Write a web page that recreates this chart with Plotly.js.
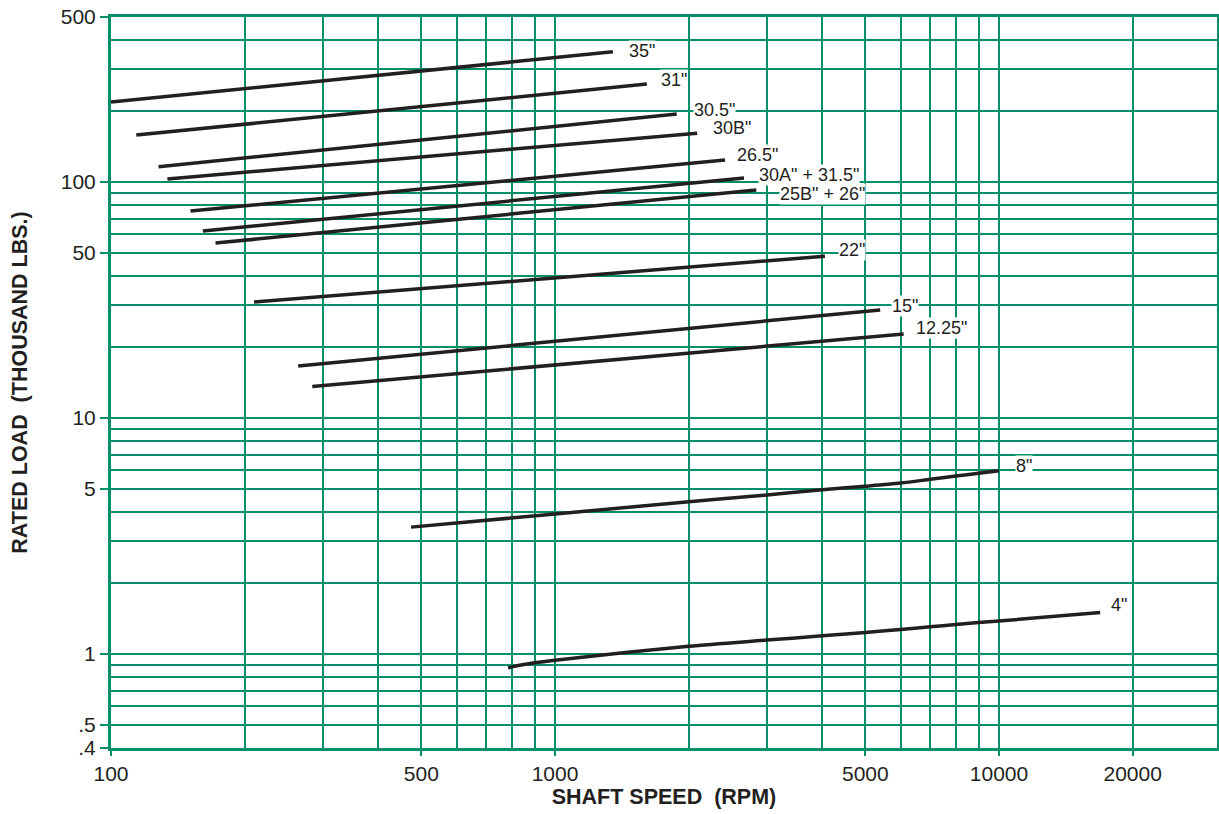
<!DOCTYPE html>
<html>
<head>
<meta charset="utf-8">
<script src="https://cdn.plot.ly/plotly-3.0.1.min.js"></script>
<style>html,body{margin:0;padding:0;background:#fff;}#chart{width:1219px;height:814px;}</style>
</head>
<body>
<div id="chart"></div>
<script>
// ---- data ----
const curveNames = ['35"', '31"', '30.5"', '30B"', '26.5"', '30A" + 31.5"', '25B" + 26"', '22"', '15"', '12.25"', '8"', '4"'];

const rpm35 = [100, 1350];    const load35 = [218, 356];
const rpm31 = [114, 1610];    const load31 = [158, 260];
const rpm305 = [128, 1880];   const load305 = [116, 194];
const rpm30B = [134, 2090];   const load30B = [103, 161];
const rpm265 = [151, 2415];   const load265 = [75.3, 124];
const rpm30A = [161, 2665];   const load30A = [62, 104];
const rpm25B = [172, 2840];   const load25B = [55.1, 92.5];
const rpm22 = [210, 4055];    const load22 = [31, 48.5];
const rpm15 = [264, 5400];    const load15 = [16.6, 28.7];
const rpm1225 = [284, 6100];  const load1225 = [13.6, 22.7];
const rpm8 = [474, 1000, 2000, 3000, 4000, 5000, 6000, 7000, 8000, 9000, 10000];
const load8 = [3.45, 3.92, 4.42, 4.72, 4.97, 5.14, 5.30, 5.50, 5.68, 5.83, 5.98];
const rpm4 = [784, 800, 900, 1000, 2000, 3000, 4000, 5000, 6000, 7000, 8000, 9000, 10000, 16900];
const load4 = [0.873, 0.883, 0.918, 0.942, 1.08, 1.146, 1.195, 1.235, 1.27, 1.305, 1.335, 1.36, 1.38, 1.50];

const xTickVals = [100, 500, 1000, 5000, 10000, 20000];
const xTickText = ['100', '500', '1000', '5000', '10000', '20000'];
const yTickVals = [0.4, 0.5, 1, 5, 10, 50, 100, 500];
const yTickText = ['.4', '.5', '1', '5', '10', '50', '100', '500'];
const xGridVals = [100,200,300,400,500,600,700,800,900,1000,2000,3000,4000,5000,6000,7000,8000,9000,10000,20000];
const yGridVals = [0.4,0.5,0.6,0.7,0.8,0.9,1,2,3,4,5,6,7,8,9,10,20,30,40,50,60,70,80,90,100,200,300,400,500];

// ---- styling ----
const rpmSets = [rpm35, rpm31, rpm305, rpm30B, rpm265, rpm30A, rpm25B, rpm22, rpm15, rpm1225, rpm8, rpm4];
const loadSets = [load35, load31, load305, load30B, load265, load30A, load25B, load22, load15, load1225, load8, load4];
const labelShiftX = [15, 13, 16, 15, 11, 14, 23, 13, 11, 11, 16, 10];
const labelShiftY = [1, 4, 4, 5, 5, 3, -4, 6, 4, 6, 5, 8];

const GREEN = '#06906a';
const INK = '#231f20';
const FONT = 'Liberation Sans, Arial, Helvetica, sans-serif';

const traces = curveNames.map((name, i) => ({
  type: 'scatter', mode: 'lines', name: name,
  x: rpmSets[i], y: loadSets[i],
  line: {color: INK, width: 3.5, shape: 'spline', smoothing: 0.8},
  hoverinfo: 'x+y+name'
}));

const annotations = curveNames.map((name, i) => {
  const xs = rpmSets[i], ys = loadSets[i];
  return {
    x: Math.log10(xs[xs.length - 1]), y: Math.log10(ys[ys.length - 1]),
    xref: 'x', yref: 'y', text: name, showarrow: false,
    xanchor: 'left', yanchor: 'middle',
    xshift: labelShiftX[i], yshift: labelShiftY[i],
    bgcolor: '#ffffff', borderpad: 0,
    font: {family: FONT, size: 18, color: INK}
  };
});

const layout = {
  width: 1219, height: 814,
  margin: {l: 111, r: 2, t: 17, b: 66},
  paper_bgcolor: '#ffffff', plot_bgcolor: '#ffffff',
  showlegend: false,
  font: {family: FONT, color: INK},
  xaxis: {
    type: 'log', range: [2, 4.491], autorange: false,
    tickmode: 'array', tickvals: xTickVals, ticktext: xTickText,
    ticks: 'outside', ticklen: 5, tickwidth: 2, tickcolor: GREEN,
    tickfont: {family: FONT, size: 21, color: INK},
    showgrid: true, gridcolor: GREEN, gridwidth: 2,
    minor: {tickmode: 'array', tickvals: xGridVals, showgrid: true, gridcolor: GREEN, gridwidth: 2, ticks: ''},
    showline: true, linecolor: GREEN, linewidth: 3, mirror: true, zeroline: false,
    title: {text: '<b>SHAFT SPEED  (RPM)</b>', font: {family: FONT, size: 21.5, color: INK}, standoff: 3}
  },
  yaxis: {
    type: 'log', range: [Math.log10(0.4), Math.log10(500)], autorange: false,
    tickmode: 'array', tickvals: yTickVals, ticktext: yTickText,
    ticks: 'outside', ticklen: 8, tickwidth: 2, tickcolor: GREEN,
    tickfont: {family: FONT, size: 21, color: INK},
    showgrid: true, gridcolor: GREEN, gridwidth: 2,
    minor: {tickmode: 'array', tickvals: yGridVals, showgrid: true, gridcolor: GREEN, gridwidth: 2, ticks: ''},
    showline: true, linecolor: GREEN, linewidth: 3, mirror: true, zeroline: false,
    title: {text: '<b>RATED LOAD  (THOUSAND LBS.)</b>', font: {family: FONT, size: 21.5, color: INK}, standoff: 28}
  },
  annotations: annotations
};

Plotly.newPlot('chart', traces, layout, {displayModeBar: false, staticPlot: true});
</script>
</body>
</html>
